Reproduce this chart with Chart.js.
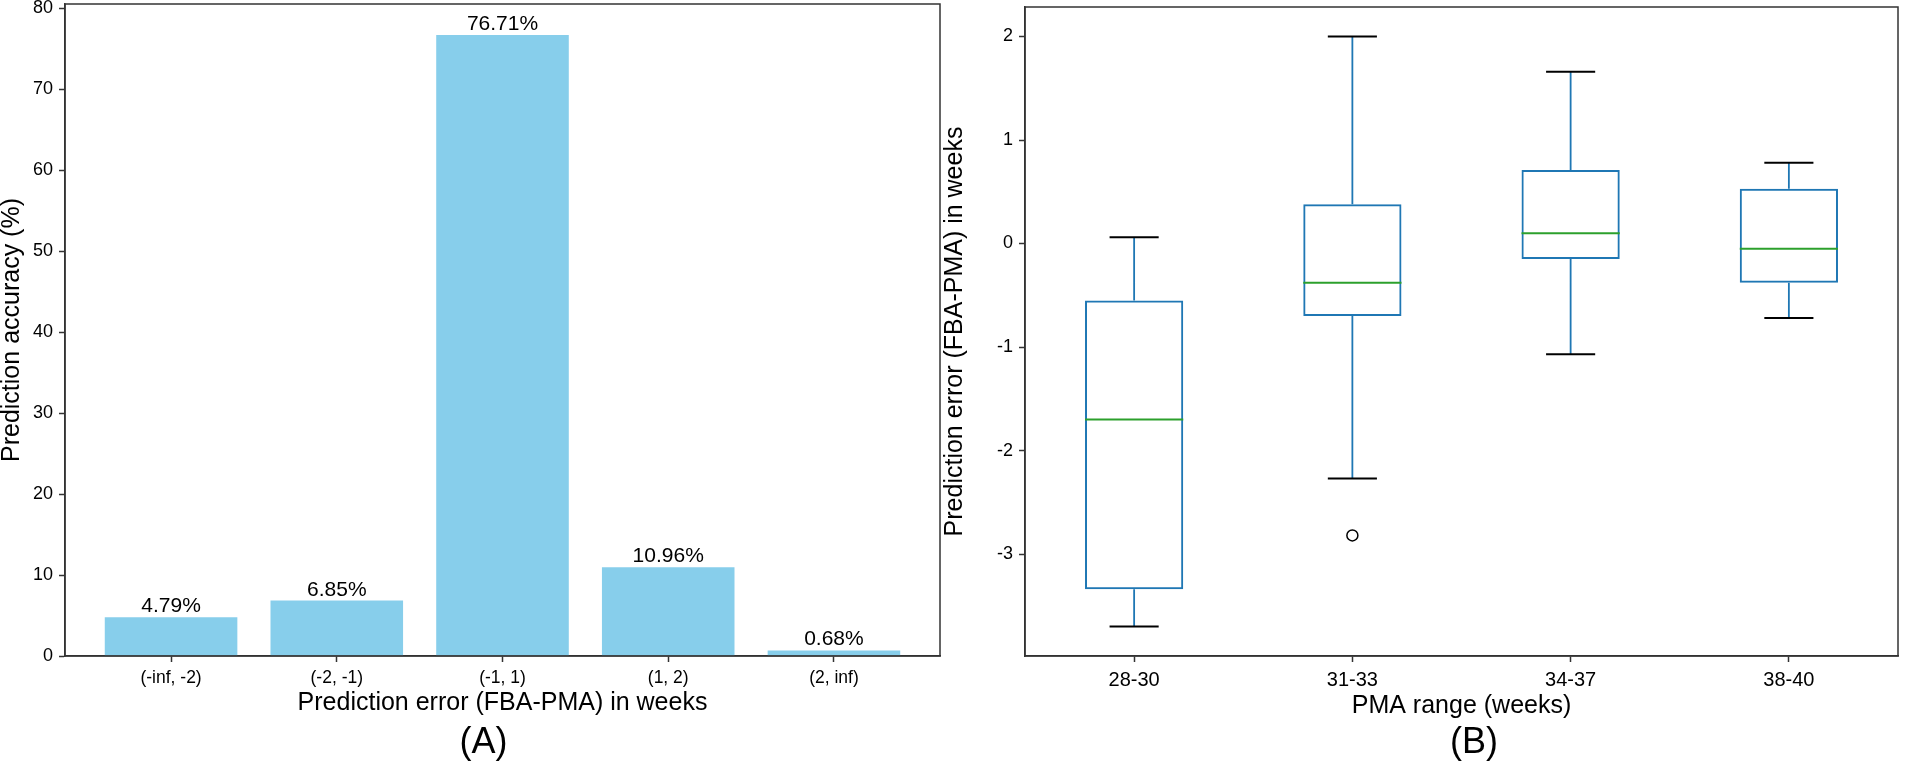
<!DOCTYPE html>
<html>
<head>
<meta charset="utf-8">
<script src="https://cdn.jsdelivr.net/npm/chart.js@4.4.1/dist/chart.umd.min.js"></script>
<style>
  html, body { margin: 0; padding: 0; background: #fff; overflow: hidden; }
  .panel { position: absolute; top: 0; height: 763px; }
  #wrapA { left: -3px; width: 963px; }
  #wrapB { left: 930px; width: 975px; }
</style>
</head>
<body>
<div class="panel" id="wrapA"><canvas id="chartA"></canvas></div>
<div class="panel" id="wrapB"><canvas id="chartB"></canvas></div>
<script>
// (A) share of predictions per error bin
const errorBins = ["(-inf, -2)", "(-2, -1)", "(-1, 1)", "(1, 2)", "(2, inf)"];
const accuracy = [4.79, 6.85, 76.71, 10.96, 0.68];
const accuracyTicks = [0, 10, 20, 30, 40, 50, 60, 70, 80];

// (B) prediction error per PMA range (box plot stats)
const pmaRanges = ["28-30", "31-33", "34-37", "38-40"];
const whiskerLow = [-3.70, -2.27, -1.07, -0.72];
const q1 = [-3.34, -0.70, -0.15, -0.38];
const median = [-1.70, -0.38, 0.10, -0.05];
const q3 = [-0.55, 0.38, 0.71, 0.53];
const whiskerHigh = [0.06, 2.00, 1.66, 0.78];
const outliers = [[], [-2.82], [], []];
const errorTicks = [-3, -2, -1, 0, 1, 2];

const FONT = "'Liberation Sans', Arial, Helvetica, sans-serif";
Chart.defaults.font.family = FONT;
Chart.defaults.color = "#000";
Chart.defaults.animation = false;
Chart.defaults.events = [];
Chart.defaults.plugins.legend.display = false;
Chart.defaults.plugins.tooltip.enabled = false;

const spine = "#333";
const boxBlue = "#1f77b4";
const medGreen = "#2ca02c";

// matplotlib style frame round the plot
const frame = {
  id: "frame",
  afterDatasetsDraw(chart) {
    const a = chart.chartArea;
    const ctx = chart.ctx;
    ctx.save();
    ctx.strokeStyle = spine;
    ctx.lineWidth = 1.5;
    ctx.strokeRect(a.left, a.top, a.right - a.left, a.bottom - a.top);
    ctx.restore();
  }
};

// "(A)" / "(B)" under each panel
const panelLabel = {
  id: "panelLabel",
  afterDraw(chart, args, opts) {
    const ctx = chart.ctx;
    ctx.save();
    ctx.font = "36px " + FONT;
    ctx.fillStyle = "#000";
    ctx.textAlign = "center";
    ctx.textBaseline = "middle";
    ctx.fillText(opts.text, opts.x, opts.y);
    ctx.restore();
  }
};

// percent text above the bars
const barValues = {
  id: "barValues",
  afterDatasetsDraw(chart) {
    const meta = chart.getDatasetMeta(0);
    const ctx = chart.ctx;
    ctx.save();
    ctx.font = "21px " + FONT;
    ctx.fillStyle = "#000";
    ctx.textAlign = "center";
    ctx.textBaseline = "alphabetic";
    meta.data.forEach((bar, i) => {
      ctx.fillText(accuracy[i].toFixed(2) + "%", bar.x, bar.y - 5);
    });
    ctx.restore();
  }
};

function tickGrid() {
  return { display: true, offset: false, drawOnChartArea: false, drawTicks: true, tickLength: 6, tickColor: spine, tickWidth: 1.5 };
}
function border() {
  return { display: true, color: spine, width: 1.5 };
}
function fixWidth(w) {
  return s => { s.width = w; s.paddingTop = 0; s.paddingBottom = 0; };
}
function fixHeight(h) {
  return s => { s.height = h; s.paddingLeft = 0; s.paddingRight = 0; };
}

// ---------- panel A ----------
const barWidth = 0.8;
const xPadA = 0.05 * (errorBins.length - 1 + barWidth);

new Chart(document.getElementById("chartA"), {
  type: "bar",
  data: {
    datasets: [{
      data: accuracy.map((v, i) => ({ x: i, y: v })),
      backgroundColor: "#87ceeb",
      borderWidth: 0,
      barPercentage: barWidth,
      categoryPercentage: 1
    }]
  },
  options: {
    responsive: true,
    maintainAspectRatio: false,
    layout: { padding: { left: 0, right: 20, top: 4, bottom: 45 } },
    scales: {
      x: {
        type: "linear",
        offset: false,
        min: -barWidth / 2 - xPadA,
        max: errorBins.length - 1 + barWidth / 2 + xPadA,
        afterBuildTicks: s => { s.ticks = errorBins.map((_, i) => ({ value: i })); },
        ticks: { callback: v => errorBins[v], font: { size: 17.5 }, padding: 6, maxRotation: 0, autoSkip: false },
        grid: tickGrid(),
        border: border(),
        title: { display: true, text: "Prediction error (FBA-PMA) in weeks", font: { size: 25 }, padding: 0 },
        afterFit: fixHeight(62)
      },
      y: {
        min: 0,
        max: Math.max(...accuracy) * 1.05,
        afterBuildTicks: s => { s.ticks = accuracyTicks.map(v => ({ value: v })); },
        ticks: { font: { size: 18 }, padding: 6 },
        grid: tickGrid(),
        border: border(),
        title: { display: true, text: "Prediction accuracy (%)", font: { size: 25 }, padding: 0 },
        afterFit: fixWidth(68)
      }
    },
    plugins: { panelLabel: { text: "(A)", x: 486.5, y: 743 } }
  },
  plugins: [barValues, frame, panelLabel]
});

// ---------- panel B ----------
const boxWidth = 0.45;
const capWidth = boxWidth / 2;
const allB = whiskerLow.concat(whiskerHigh, outliers.flat());
const minB = Math.min(...allB), maxB = Math.max(...allB);
const yPadB = 0.05 * (maxB - minB);

function halfPx(chart, units) {
  const x = chart.scales.x;
  return x.getPixelForValue(1 + units / 2) - x.getPixelForValue(1);
}

const whiskerPts = [];
const capPts = [];
pmaRanges.forEach((_, i) => {
  whiskerPts.push({ x: i + 1, y: q3[i] }, { x: i + 1, y: whiskerHigh[i] }, { x: i + 1, y: null });
  whiskerPts.push({ x: i + 1, y: q1[i] }, { x: i + 1, y: whiskerLow[i] }, { x: i + 1, y: null });
  capPts.push({ x: i + 1, y: whiskerLow[i] }, { x: i + 1, y: whiskerHigh[i] });
});
const flierPts = [];
outliers.forEach((list, i) => list.forEach(v => flierPts.push({ x: i + 1, y: v })));

new Chart(document.getElementById("chartB"), {
  type: "bar",
  data: {
    datasets: [
      {
        type: "bar",
        order: 5,
        data: pmaRanges.map((_, i) => ({ x: i + 1, y: [q1[i], q3[i]] })),
        backgroundColor: "rgba(0,0,0,0)",
        borderColor: boxBlue,
        borderWidth: 2,
        borderSkipped: false,
        barPercentage: boxWidth,
        categoryPercentage: 1
      },
      {
        type: "line",
        order: 4,
        data: whiskerPts,
        borderColor: boxBlue,
        borderWidth: 1.8,
        pointRadius: 0,
        spanGaps: false
      },
      {
        type: "scatter",
        order: 3,
        data: capPts,
        pointStyle: "line",
        pointRadius: ctx => halfPx(ctx.chart, capWidth),
        pointBorderColor: "#000",
        pointBorderWidth: 2
      },
      {
        type: "scatter",
        order: 2,
        data: median.map((v, i) => ({ x: i + 1, y: v })),
        pointStyle: "line",
        pointRadius: ctx => halfPx(ctx.chart, boxWidth),
        pointBorderColor: medGreen,
        pointBorderWidth: 2
      },
      {
        type: "scatter",
        order: 1,
        data: flierPts,
        pointStyle: "circle",
        pointRadius: 5.5,
        pointBackgroundColor: "rgba(0,0,0,0)",
        pointBorderColor: "#000",
        pointBorderWidth: 1.5
      }
    ]
  },
  options: {
    responsive: true,
    maintainAspectRatio: false,
    layout: { padding: { left: 10, right: 3, top: 4, bottom: 42 } },
    scales: {
      x: {
        type: "linear",
        offset: false,
        min: 0.5,
        max: pmaRanges.length + 0.5,
        afterBuildTicks: s => { s.ticks = pmaRanges.map((_, i) => ({ value: i + 1 })); },
        ticks: { callback: v => pmaRanges[v - 1], font: { size: 20 }, padding: 6, maxRotation: 0, autoSkip: false },
        grid: tickGrid(),
        border: border(),
        title: { display: true, text: "PMA range (weeks)", font: { size: 25 }, padding: 0 },
        afterFit: fixHeight(65)
      },
      y: {
        min: minB - yPadB,
        max: maxB + yPadB,
        afterBuildTicks: s => { s.ticks = errorTicks.map(v => ({ value: v })); },
        ticks: { font: { size: 18 }, padding: 6 },
        grid: tickGrid(),
        border: border(),
        title: { display: true, text: "Prediction error (FBA-PMA) in weeks", font: { size: 25 }, padding: 0 },
        afterFit: fixWidth(85)
      }
    },
    plugins: { panelLabel: { text: "(B)", x: 544, y: 743 } }
  },
  plugins: [frame, panelLabel]
});
</script>
</body>
</html>
